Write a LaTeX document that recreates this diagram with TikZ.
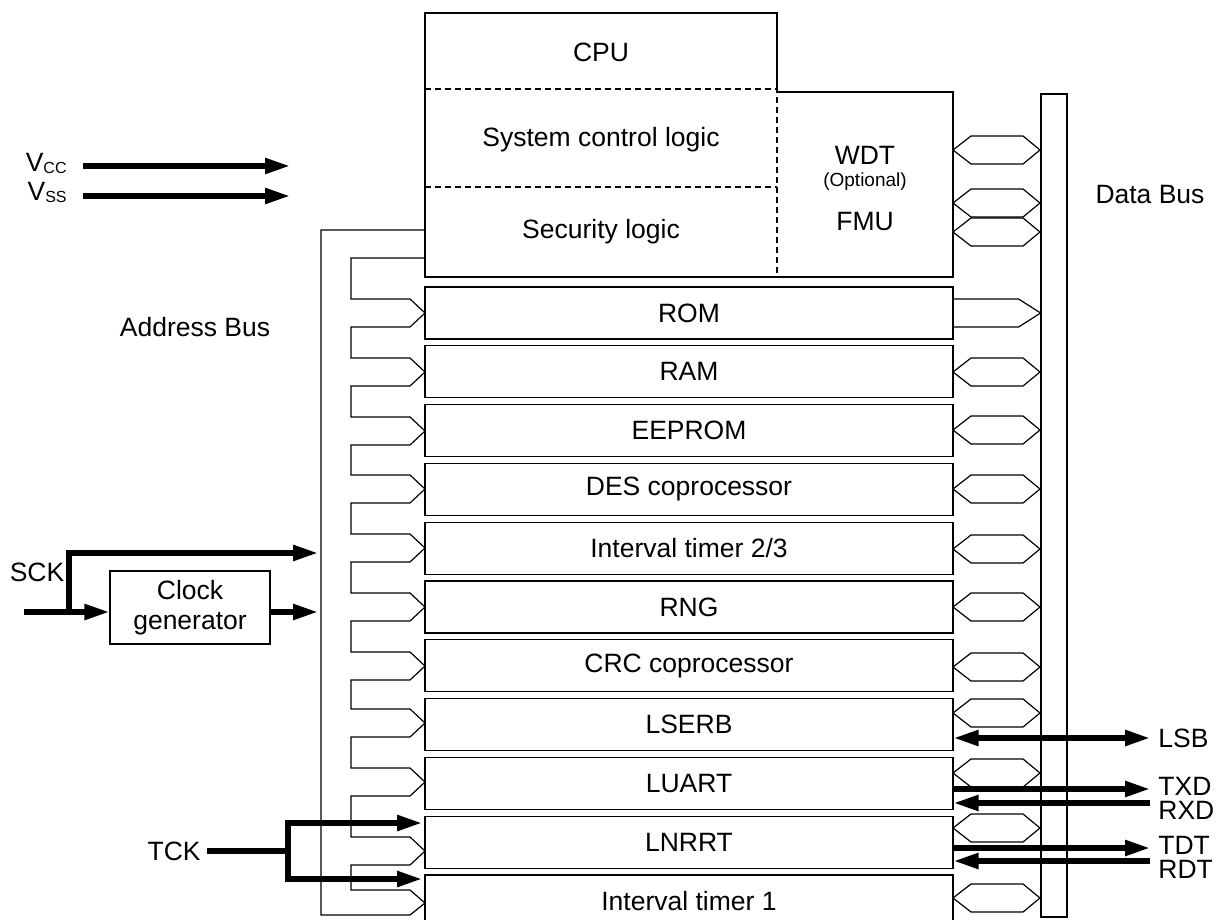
\documentclass[tikz,border=0pt]{standalone}
\usepackage{fontspec}
\setmainfont{Liberation Sans}
\usetikzlibrary{arrows.meta}
\usetikzlibrary{positioning}

\begin{document}
\begin{tikzpicture}[x=0.5pt,y=-0.5pt,font=\fontsize{13.25}{15}\selectfont]
\clip (0,0) rectangle (1220,920);

\tikzstyle{box}=[draw,line width=0.6pt,inner sep=0pt]
\tikzstyle{module}=[box,minimum width=264pt,minimum height=26pt]
\tikzstyle{bus}=[line width=0.6pt]
\tikzstyle{sepline}=[bus,dash pattern=on 3pt off 2pt]
\tikzstyle{wire}=[line width=2.7pt]
\tikzstyle{sig}=[wire,-{Triangle[length=12.5pt,width=7.5pt]}]
\tikzstyle{sigb}=[wire,{Triangle[length=12.5pt,width=7.5pt]}-{Triangle[length=12.5pt,width=7.5pt]}]
\tikzstyle{pinl}=[anchor=west,inner sep=0pt]

%CPU block
\draw[bus] (777,89) -- (777,13) -- (425,13) -- (425,277) -- (953,277) -- (953,92) -- (777,92);
\draw[sepline] (425,89) -- (777,89) -- (777,277);
\draw[sepline] (425,187) -- (777,187);
\node (cpu) at (601,52) {CPU};
\node (sysctl) at (601,140) {System control logic};
\node (secl) at (601,232) {Security logic};
\node (wdt) at (865,155) {WDT};
\node[font=\fontsize{9.5}{11}\selectfont] (opt) at (865,182) {(Optional)};
\node (fmu) at (865,222) {FMU};

%Data Bus
\node[box,minimum width=13pt,minimum height=411.5pt] (dbus) at (1054,505.5) {};
\node (dbus-l) at (1150,195) {Data Bus};

%Modules
\foreach \name/\i in {ROM/1, RAM/2, EEPROM/3, DES coprocessor/4, {Interval timer 2/3}/5, RNG/6, CRC coprocessor/7, LSERB/8, LUART/9, LNRRT/10, Interval timer 1/11}
\node[module] (M-\i) at (689,{313+(\i-1)*58.8}) {\name};

%Data bus links
\draw[bus] (M-1.east) ++(0,-14) -- ++(65,0) -- ++(22,14) -- ++(-22,14) -- ++(-65,0);
\foreach \y in {150,203,232,372,430,489,549,607,667,713,773,828,898}
\draw[bus] (953,\y) -- ++(18,-14) -- ++(52,0) -- ++(17,14) -- ++(-17,14) -- ++(-52,0) -- cycle;

%Address Bus
\node (abus-l) at (195,327) {Address Bus};
\draw[bus] (425,230) -- (321,230) -- (321,915) -- (410,915) -- (425,903);
\draw[bus] (425,258) -- (351,258)
  \foreach \t in {313,372,431,489,548,607,666,723,782,851}
  { -- (351,\t-14) -- (410,\t-14) -- (425,\t) -- (410,\t+14) -- (351,\t+14) }
  -- (351,890) -- (410,890) -- (425,903);

%Supply
\coordinate (vcc-p) at (290,166);
\coordinate (vss-p) at (290,196);
\node[anchor=east,inner xsep=8pt,inner ysep=0pt] (vcc) at (83,163.5) {V\raisebox{-1pt}{\fontsize{8}{9}\selectfont CC}};
\node[anchor=east,inner xsep=8pt,inner ysep=0pt] (vss) at (83,192.5) {V\raisebox{-1pt}{\fontsize{8}{9}\selectfont SS}};
\draw[sig] (vcc.east |- vcc-p) -- (vcc-p);
\draw[sig] (vss.east |- vss-p) -- (vss-p);

%Clock
\node[box,minimum width=80pt,minimum height=36.5pt,align=center] (clk) at (190,607.5) {Clock\\generator};
\node (sck) at (37,572) {SCK};
\coordinate (sck-in) at (24,612);
\coordinate (sck-j) at (69,612);
\coordinate (ab-sck) at (318,553);
\coordinate (ab-clk) at (318,612);
\draw[sig] (sck-in) -- (clk.west |- sck-in);
\draw[sig] (sck-j) |- (ab-sck);
\draw[sig] (clk.east |- ab-clk) -- (ab-clk);

%TCK
\node[anchor=east,inner xsep=3pt,inner ysep=0pt] (tck) at (207,851) {TCK};
\coordinate (tck-j) at (288,851);
\coordinate (tck-a) at (422,823);
\coordinate (tck-b) at (422,879);
\draw[wire] (tck.east) -- (tck-j);
\draw[sig] (tck-j) |- (tck-a);
\draw[sig] (tck-j) |- (tck-b);

%Serial lines
\coordinate (lsb-p) at (1150,738);
\coordinate (txd-p) at (1150,789);
\coordinate (rxd-p) at (1150,803);
\coordinate (tdt-p) at (1150,848);
\coordinate (rdt-p) at (1150,861);
\draw[sigb] (M-8.east |- lsb-p) -- (lsb-p);
\draw[sig] (M-9.east |- txd-p) -- (txd-p);
\draw[sig] (rxd-p) -- (M-9.east |- rxd-p);
\draw[sig] (M-10.east |- tdt-p) -- (tdt-p);
\draw[sig] (rdt-p) -- (M-10.east |- rdt-p);
\node[pinl] (lsb) at (1158,738) {LSB};
\node[pinl] (txd) at (1158,786) {TXD};
\node[pinl] (rxd) at (1158,810) {RXD};
\node[pinl] (tdt) at (1158,845) {TDT};
\node[pinl] (rdt) at (1158,869) {RDT};

\end{tikzpicture}
\end{document}
